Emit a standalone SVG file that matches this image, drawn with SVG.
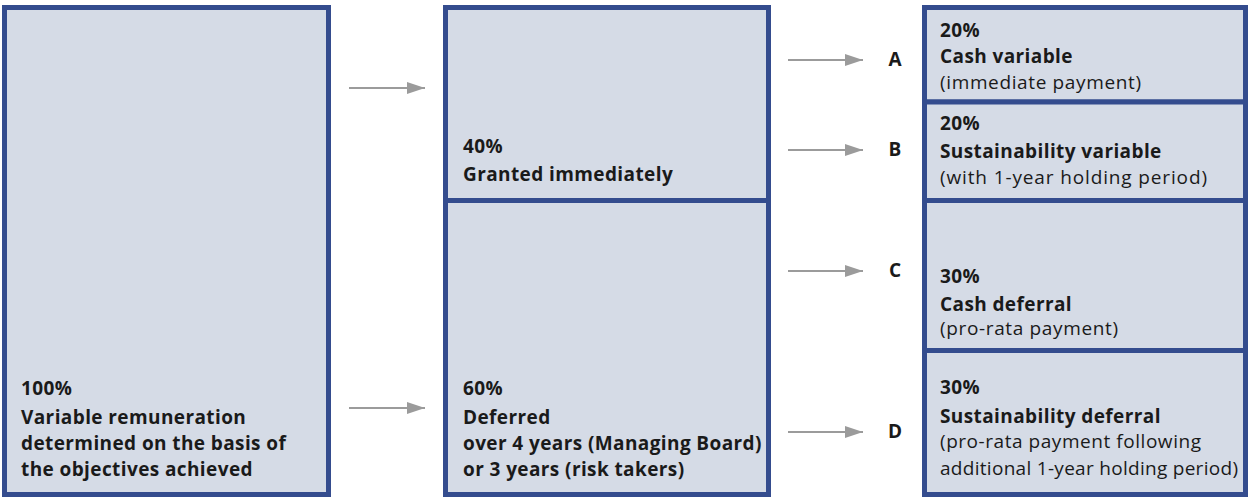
<svg xmlns="http://www.w3.org/2000/svg" width="1248" height="498" viewBox="0 0 1248 498">
<style>
.box{fill:#D5DBE6;stroke:#344C8E;stroke-width:5}
.b{font-family:"Open Sans","Liberation Sans",sans-serif;font-size:19px;font-weight:700;letter-spacing:0.4px;fill:#1a1a1a}
.n{font-family:"Open Sans","Liberation Sans",sans-serif;font-size:19px;font-weight:400;fill:#1a1a1a}
.lbl{font-family:"Open Sans","Liberation Sans",sans-serif;font-size:19px;font-weight:700;fill:#1a1a1a;text-anchor:middle}
.arr{stroke:#9B9B9B;stroke-width:2;fill:none;marker-end:url(#ah)}
</style>
<defs>
<marker id="ah" markerWidth="9" markerHeight="6" refX="9" refY="3" orient="auto" markerUnits="strokeWidth">
<path d="M0,0 L9,3 L0,6 Z" fill="#9B9B9B"/>
</marker>
</defs>
<rect width="1248" height="498" fill="#ffffff"/>
<g id="connectors">
<line class="arr" x1="349" y1="88" x2="425" y2="88"/>
<line class="arr" x1="349" y1="408" x2="425" y2="408"/>
<line class="arr" x1="788" y1="60" x2="863" y2="60"/>
<line class="arr" x1="788" y1="150" x2="863" y2="150"/>
<line class="arr" x1="788" y1="271" x2="863" y2="271"/>
<line class="arr" x1="788" y1="432" x2="863" y2="432"/>
</g>
<g id="total">
<rect class="box" x="4.5" y="7.5" width="324" height="487"/>
<text class="b" x="21" y="395">100%</text>
<text class="b" x="21" y="424">Variable remuneration</text>
<text class="b" x="21" y="450">determined on the basis of</text>
<text class="b" x="21" y="476">the objectives achieved</text>
</g>
<g id="granted">
<rect class="box" x="445.5" y="7.5" width="323" height="193"/>
<text class="b" x="463" y="153">40%</text>
<text class="b" x="463" y="181">Granted immediately</text>
</g>
<g id="deferred">
<rect class="box" x="445.5" y="200.5" width="323" height="294"/>
<text class="b" x="463" y="395">60%</text>
<text class="b" x="463" y="424">Deferred</text>
<text class="b" x="463" y="450">over 4 years (Managing Board)</text>
<text class="b" x="463" y="476">or 3 years (risk takers)</text>
</g>
<g id="labels">
<text class="lbl" x="895" y="66">A</text>
<text class="lbl" x="895" y="156">B</text>
<text class="lbl" x="895" y="277">C</text>
<text class="lbl" x="895" y="438">D</text>
</g>
<g id="nodeA">
<rect class="box" x="924.5" y="7.5" width="321" height="94.5"/>
<text class="b" x="940" y="37">20%</text>
<text class="b" x="940" y="63">Cash variable</text>
<text class="n" x="940" y="89" textLength="201" lengthAdjust="spacing">(immediate payment)</text>
</g>
<g id="nodeB">
<rect class="box" x="924.5" y="102" width="321" height="98.5"/>
<text class="b" x="940" y="130">20%</text>
<text class="b" x="940" y="158">Sustainability variable</text>
<text class="n" x="940" y="184" textLength="267" lengthAdjust="spacing">(with 1-year holding period)</text>
</g>
<g id="nodeC">
<rect class="box" x="924.5" y="200.5" width="321" height="150"/>
<text class="b" x="940" y="283">30%</text>
<text class="b" x="940" y="311">Cash deferral</text>
<text class="n" x="940" y="335" textLength="178" lengthAdjust="spacing">(pro-rata payment)</text>
</g>
<g id="nodeD">
<rect class="box" x="924.5" y="350.5" width="321" height="144"/>
<text class="b" x="940" y="394">30%</text>
<text class="b" x="940" y="423">Sustainability deferral</text>
<text class="n" x="940" y="448" textLength="261" lengthAdjust="spacing">(pro-rata payment following</text>
<text class="n" x="940" y="475" textLength="298" lengthAdjust="spacing">additional 1-year holding period)</text>
</g>
</svg>
